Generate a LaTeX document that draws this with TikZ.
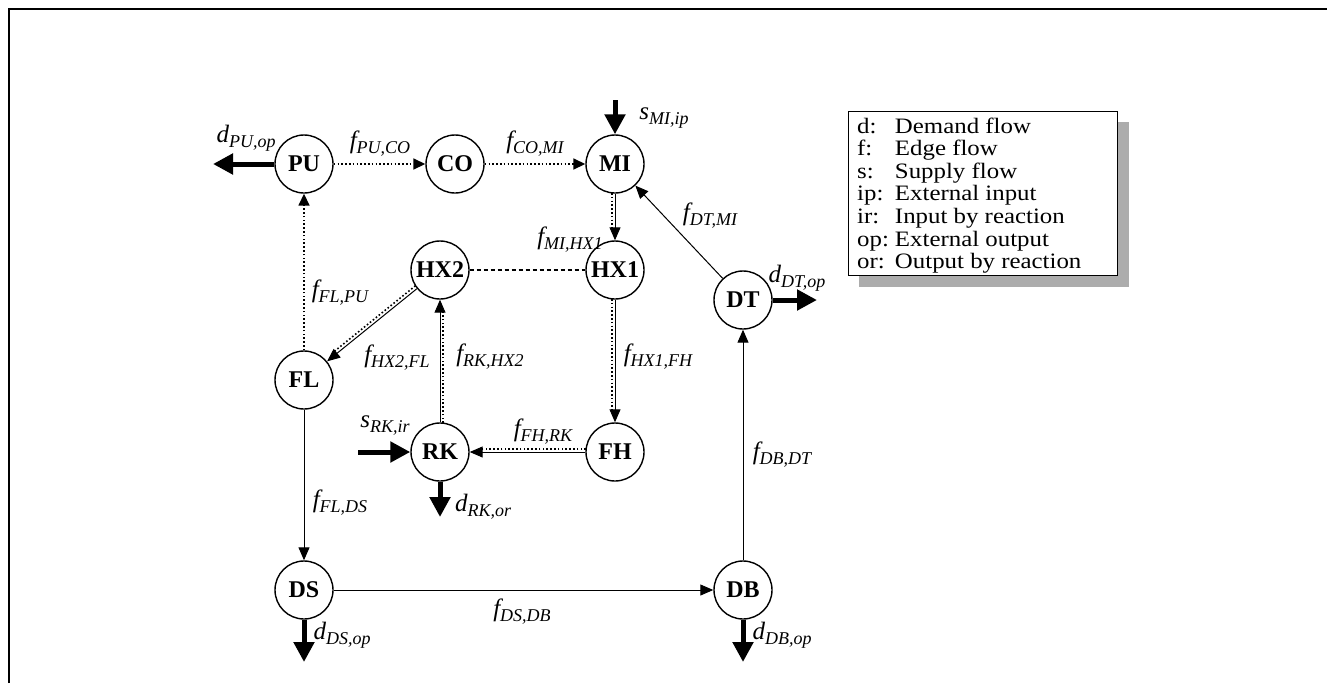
\documentclass[tikz,border=0pt]{standalone}
\usepackage{fontspec}
\setmainfont{Liberation Serif}
\newfontfamily\legfont[FakeStretch=1.13]{Liberation Serif}
\usetikzlibrary{arrows.meta,calc}
\newcommand\fl[2]{{\fontsize{25}{25}\selectfont\itshape #1}\raisebox{-5pt}{\fontsize{18}{18}\selectfont\itshape #2}}
\newcommand\dbl[2]{%
  \draw[flow] (#1) -- (#2);
  \draw[dotl,shorten <=29pt,shorten >=40pt] ($(#1.center)!3.2pt!-90:(#2.center)$) -- ($(#2.center)!3.2pt!90:(#1.center)$);
}
\begin{document}
\begin{tikzpicture}[x=1pt,y=-1pt,
  nd/.style={circle,draw,line width=1.4pt,minimum size=58pt,inner sep=0pt,font=\fontsize{24}{24}\selectfont\bfseries},
  flow/.style={line width=1pt,-{Triangle[length=13pt,width=11pt]}},
  dotl/.style={line width=1.6pt,dash pattern=on 1.6pt off 2.2pt},
  dotflow/.style={dotl,-{Triangle[length=12pt,width=11pt]}},
  big/.style={line width=5pt,-{Triangle[length=20pt,width=20pt]}},
  lab/.style={inner sep=0pt}]
\useasboundingbox (0,0) rectangle (1327,683);
\draw[line width=1.5pt] (9,683) -- (9,9) -- (1327,9);
% nodes
\node[nd] (PU) at (304,164) {PU};
\node[nd] (CO) at (455,164) {CO};
\node[nd] (MI) at (615,164) {MI};
\node[nd] (HX2) at (440,270) {HX2};
\node[nd] (HX1) at (615,270) {HX1};
\node[nd] (DT) at (743,300) {DT};
\node[nd] (FL) at (304,380) {FL};
\node[nd] (RK) at (440,452) {RK};
\node[nd] (FH) at (615,452) {FH};
\node[nd] (DS) at (304,590) {DS};
\node[nd] (DB) at (743,590) {DB};
% free ends
\coordinate (sMI) at (615,100);
\coordinate (dPU) at (213,164);
\coordinate (dDT) at (817,300);
\coordinate (sRK) at (358,452);
\coordinate (dRK) at (440,517);
\coordinate (dDS) at (304,662);
\coordinate (dDB) at (743,662);
% thick arrows
\draw[big] (sMI) -- (MI);
\draw[big] (PU) -- (dPU);
\draw[big] (DT) -- (dDT);
\draw[big] (sRK) -- (RK);
\draw[big] (RK) -- (dRK);
\draw[big] (DS) -- (dDS);
\draw[big] (DB) -- (dDB);
% dotted arrows
\draw[dotflow] (PU) -- (CO);
\draw[dotflow] (CO) -- (MI);
\draw[dotflow] (FL) -- (PU);
% double arrows
\dbl{MI}{HX1}
\dbl{HX1}{FH}
\dbl{FH}{RK}
\dbl{RK}{HX2}
\dbl{HX2}{FL}
% dashed
\draw[line width=1.2pt,dash pattern=on 4pt off 3pt] (HX2) -- (HX1);
% solid arrows
\draw[flow] (DT) -- (MI);
\draw[flow] (FL) -- (DS);
\draw[flow] (DS) -- (DB);
\draw[flow] (DB) -- (DT);
% labels
\node[lab] (l1) at (246,138) {\fl{d}{PU,op}};
\node[lab] (l2) at (380,144) {\fl{f}{PU,CO}};
\node[lab] (l3) at (535,144) {\fl{f}{CO,MI}};
\node[lab] (l4) at (664,118) {\fl{s}{MI,ip}};
\node[lab] (l5) at (570,240) {\fl{f}{MI,HX1}};
\node[lab] (l6) at (710,216) {\fl{f}{DT,MI}};
\node[lab] (l7) at (797,278) {\fl{d}{DT,op}};
\node[lab] (l8) at (340,293) {\fl{f}{FL,PU}};
\node[lab] (l9) at (397,358) {\fl{f}{HX2,FL}};
\node[lab] (l10) at (490,357) {\fl{f}{RK,HX2}};
\node[lab] (l11) at (658,357) {\fl{f}{HX1,FH}};
\node[lab] (l12) at (385,425) {\fl{s}{RK,ir}};
\node[lab] (l13) at (543,432) {\fl{f}{FH,RK}};
\node[lab] (l14) at (340,503) {\fl{f}{FL,DS}};
\node[lab] (l15) at (483,507) {\fl{d}{RK,or}};
\node[lab] (l16) at (782,455) {\fl{f}{DB,DT}};
\node[lab] (l17) at (522,612) {\fl{f}{DS,DB}};
\node[lab] (l18) at (342,635) {\fl{d}{DS,op}};
\node[lab] (l19) at (782,635) {\fl{d}{DB,op}};
% legend
\fill[gray!65] (859,122) rectangle (1129,287);
\draw[line width=1pt,fill=white] (848,111) rectangle (1117,275);
\node[anchor=north west,inner sep=0pt,font=\legfont\fontsize{22}{22.6}\selectfont] (leg) at (857,117)
 {\begin{tabular}{@{}l@{\hspace{6pt}}l@{}}
 d: & Demand flow\\
 f: & Edge flow\\
 s: & Supply flow\\
 ip: & External input\\
 ir: & Input by reaction\\
 op: & External output\\
 or: & Output by reaction
 \end{tabular}};
\end{tikzpicture}
\end{document}
